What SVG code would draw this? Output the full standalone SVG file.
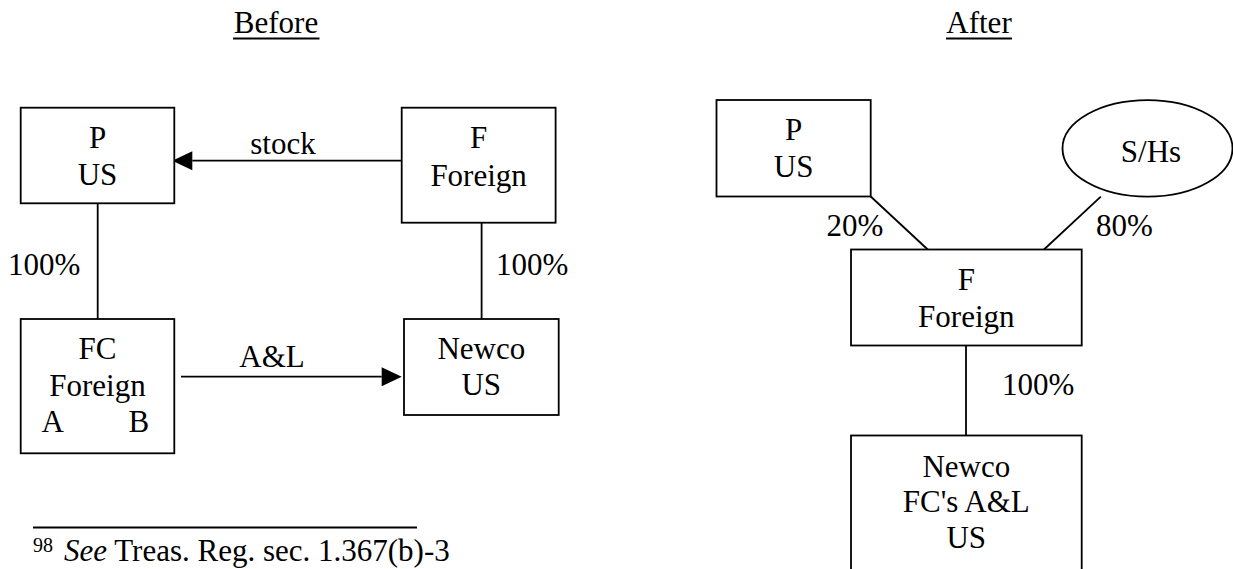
<svg xmlns="http://www.w3.org/2000/svg" width="1233" height="569" viewBox="0 0 1233 569">
  <style>
    text { font-family: "Liberation Serif", "Times New Roman", serif; font-size: 31px; fill: #000; }
    .c { text-anchor: middle; }
    .box { fill: #fff; stroke: #000; stroke-width: 1.8; }
    .line { fill: none; stroke: #000; stroke-width: 1.8; }
    .sup { font-size: 20px; }
    .it { font-style: italic; }
  </style>
  <defs>
    <marker id="head" markerUnits="userSpaceOnUse" markerWidth="21" markerHeight="20" refX="0" refY="9.5" orient="auto" overflow="visible">
      <path d="M0,0 L20,9.5 L0,19 Z" fill="#000"/>
    </marker>
  </defs>

  <rect width="1233" height="569" fill="#fff"/>

  <!-- headings -->
  <g id="headings">
    <text class="c" x="276" y="33">Before</text>
    <line class="line" x1="233" y1="38.5" x2="319.5" y2="38.5" stroke-width="1.5"/>
    <text class="c" x="979" y="33">After</text>
    <line class="line" x1="946" y1="38.5" x2="1012" y2="38.5" stroke-width="1.5"/>
  </g>

  <!-- connectors -->
  <g id="connectors">
    <!-- before -->
    <line class="line" x1="401.7" y1="160.7" x2="192.3" y2="160.7" marker-end="url(#head)"/>
    <line class="line" x1="181" y1="376.7" x2="381.7" y2="376.7" marker-end="url(#head)"/>
    <line class="line" x1="97.7" y1="203.3" x2="97.7" y2="319"/>
    <line class="line" x1="481.6" y1="222.7" x2="481.6" y2="319"/>
    <!-- after -->
    <line class="line" x1="870.7" y1="196.5" x2="927.7" y2="249.5"/>
    <line class="line" x1="1100.8" y1="196.7" x2="1044" y2="249.5"/>
    <line class="line" x1="966" y1="345.5" x2="966" y2="435.5"/>
  </g>

  <!-- connector labels -->
  <g id="labels">
    <text class="c" x="283" y="154">stock</text>
    <text class="c" x="272" y="367">A&amp;L</text>
    <text x="8" y="275">100%</text>
    <text x="496" y="275">100%</text>
    <text x="826.5" y="235.5">20%</text>
    <text x="1096" y="235.5">80%</text>
    <text x="1002" y="395">100%</text>
  </g>

  <!-- before: nodes -->
  <g id="before-p">
    <rect class="box" x="20.7" y="107.7" width="153.6" height="95.6"/>
    <text class="c" x="97.5" y="148.3">P</text>
    <text class="c" x="97.5" y="185.3">US</text>
  </g>
  <g id="before-f">
    <rect class="box" x="401.7" y="107.7" width="153.9" height="115"/>
    <text class="c" x="478.6" y="148.3">F</text>
    <text class="c" x="478.6" y="186">Foreign</text>
  </g>
  <g id="before-fc">
    <rect class="box" x="20.7" y="319" width="153.6" height="134.3"/>
    <text class="c" x="97.5" y="359">FC</text>
    <text class="c" x="97.5" y="395.7">Foreign</text>
    <text x="41.5" y="432.3">A</text>
    <text x="128.5" y="432.3">B</text>
  </g>
  <g id="before-newco">
    <rect class="box" x="404" y="319" width="154.7" height="96"/>
    <text class="c" x="481.3" y="359">Newco</text>
    <text class="c" x="481.3" y="395">US</text>
  </g>

  <!-- after: nodes -->
  <g id="after-p">
    <rect class="box" x="716.5" y="100" width="154.2" height="96.5"/>
    <text class="c" x="793.6" y="140">P</text>
    <text class="c" x="793.6" y="176.7">US</text>
  </g>
  <g id="after-shs">
    <ellipse class="box" cx="1147.5" cy="148.4" rx="85" ry="48.2"/>
    <text class="c" x="1151" y="162.3">S/Hs</text>
  </g>
  <g id="after-f">
    <rect class="box" x="851" y="249.5" width="230.7" height="96"/>
    <text class="c" x="966.3" y="290">F</text>
    <text class="c" x="966.3" y="326.7">Foreign</text>
  </g>
  <g id="after-newco">
    <rect class="box" x="851" y="435.5" width="230.7" height="150"/>
    <text class="c" x="966.3" y="476.7">Newco</text>
    <text class="c" x="966.3" y="511.7">FC's A&amp;L</text>
    <text class="c" x="966.3" y="548.3">US</text>
  </g>

  <!-- footnote -->
  <g id="footnote">
    <line class="line" x1="33" y1="527.5" x2="417" y2="527.5" stroke-width="1.6"/>
    <text class="sup" x="33" y="552">98</text>
    <text x="64" y="561"><tspan class="it">See</tspan> Treas. Reg. sec. 1.367(b)-3</text>
  </g>
</svg>
